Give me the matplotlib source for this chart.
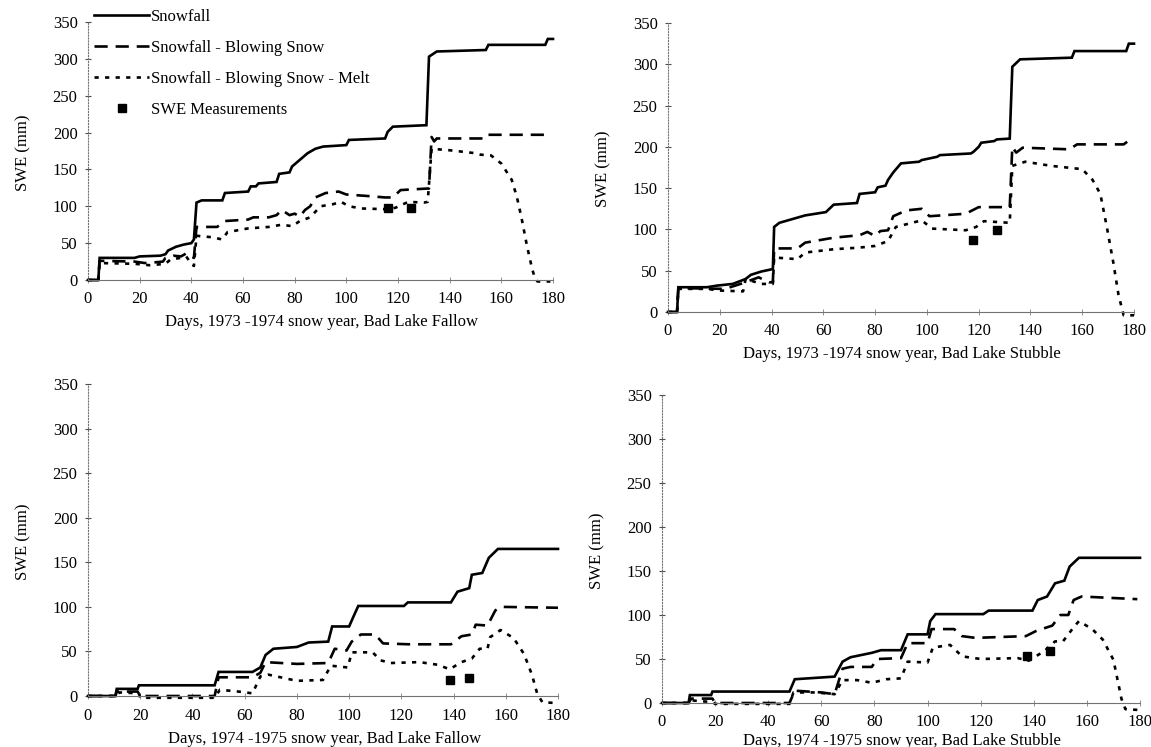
import matplotlib
matplotlib.use("Agg")
import matplotlib.pyplot as plt

plt.rcParams['font.family'] = ['Liberation Serif', 'DejaVu Serif']

# ---- data (day, SWE mm) ----
# 1973-1974, Bad Lake Fallow
a_snow_d = [0, 4, 4.5, 18, 20, 28, 30, 31, 34, 37, 40, 41, 42, 44, 52, 53, 62, 63, 65, 66, 73, 74, 78, 79, 81, 85, 88, 91, 100, 101, 115, 116, 118, 131, 132, 135, 154, 155, 177, 178, 180]
a_snow_v = [0, 0, 30, 30, 32, 33, 35, 40, 45, 48, 50, 55, 105, 108, 108, 118, 120, 127, 127, 131, 133, 144, 146, 154, 160, 172, 178, 181, 183, 190, 192, 201, 208, 210, 303, 310, 312, 319, 319, 327, 327]
a_blow_d = [0, 4, 4.5, 18, 22, 26, 29, 30, 33, 36, 38, 41, 42, 50, 53, 62, 64, 70, 73, 75, 78, 80, 82, 84, 86, 88, 92, 97, 100, 108, 115, 118, 121, 131, 132, 133, 134, 135, 154, 155, 177, 178]
a_blow_v = [0, 0, 26, 25, 23, 24, 25, 30, 33, 32, 36, 30, 72, 72, 80, 82, 85, 85, 88, 95, 88, 90, 86, 95, 100, 112, 118, 120, 116, 114, 112, 112, 122, 124, 124, 194, 188, 192, 192, 197, 197, 203]
a_melt_d = [0, 4, 4.5, 18, 24, 30, 32, 36, 38, 40, 41, 42, 48, 52, 54, 62, 70, 75, 79, 82, 86, 90, 95, 98, 101, 106, 116, 119, 124, 130, 131.5, 133, 140, 150, 152, 156, 160, 164, 166, 168, 170, 172, 173, 174, 179]
a_melt_v = [0, 0, 23, 22, 20, 22, 28, 30, 32, 22, 19, 60, 58, 55, 65, 70, 72, 75, 73, 80, 85, 100, 103, 106, 100, 97, 96, 98, 106, 105, 106, 178, 176, 172, 170, 169, 158, 136, 113, 81, 45, 14, 3, -2, -2]
a_meas_d = [116, 125]
a_meas_v = [97, 98]

# 1973-1974, Bad Lake Stubble
b_snow_d = [0, 3.5, 4, 15, 19, 25, 30, 32, 36, 40.5, 41, 43, 53, 61, 64, 73, 74, 80, 81, 84, 85, 87, 90, 97, 98, 104, 105, 117, 118, 120, 121, 126, 127, 132, 133, 136, 156, 157, 177, 178, 180]
b_snow_v = [0, 0, 30, 30, 32, 34, 40, 45, 49, 52, 103, 108, 117, 121, 130, 132, 143, 145, 151, 153, 160, 169, 180, 182, 184, 188, 190, 192, 194, 200, 205, 207, 209, 210, 297, 306, 308, 316, 316, 325, 325]
b_blow_d = [0, 3.5, 4, 22, 29, 35, 39, 40.5, 41, 50, 53, 64, 74, 77, 80, 82, 85, 87, 92, 98, 101, 115, 120, 132, 133, 134.5, 137, 155, 158, 176, 179]
b_blow_v = [0, 0, 29, 28, 35, 42, 36, 36, 77, 77, 84, 90, 93, 97, 92, 98, 99, 116, 123, 125, 116, 119, 127, 127, 200, 193, 199, 197, 203, 203, 210]
b_melt_d = [0, 3.5, 4, 15, 20, 29, 30, 36, 40.5, 41, 50, 53, 64, 74, 80, 85, 88, 98, 102, 115, 119, 122, 132, 133, 138, 148, 160, 164, 167, 169.5, 172, 174, 176, 180]
b_melt_v = [0, 0, 28, 28, 26, 25, 40, 34, 34, 66, 64, 72, 76, 78, 80, 86, 103, 111, 101, 99, 103, 110, 108, 177, 182, 177, 173, 160, 143, 103, 60, 21, -4, -4]
b_meas_d = [118, 127]
b_meas_v = [87, 99]

# 1974-1975, Bad Lake Fallow
c_snow_d = [0, 10.5, 11, 19, 19.5, 48.5, 50, 63, 66, 68, 71, 80, 84.5, 92, 93.5, 100, 101.5, 103.5, 121, 122.5, 139, 141.5, 146, 147, 151, 153.5, 157, 180]
c_snow_v = [0, 0, 8, 8, 12, 12, 27, 27, 32, 46, 53, 55, 60, 61, 78, 78, 88, 101, 101, 105, 105, 117, 121, 136, 138, 155, 165, 165]
c_blow_d = [0, 10.5, 11, 19, 20, 48.5, 50, 63, 66, 68, 80, 92, 94.5, 99, 101, 104.5, 110, 113, 123, 139, 143, 147, 148.5, 153, 156, 158, 180]
c_blow_v = [0, 0, 5, 5, 0, 0, 21, 21, 26, 38, 36, 37, 53, 51, 61, 69, 69, 59, 58, 58, 67, 69, 80, 79, 96, 100, 99]
c_melt_d = [0, 11, 12, 19.5, 20, 48.5, 50.5, 57.5, 63, 66, 69, 80, 90, 93, 99.5, 101, 109, 112, 116, 127, 134, 138.5, 143, 147, 150, 153, 154, 158, 163, 167, 170, 172, 174, 180]
c_melt_v = [0, 0, 4, 3, -2, -2, 7, 5, 3, 22, 24, 17, 18, 34, 32, 49, 49, 40, 37, 38, 35, 30, 38, 42, 53, 53, 66, 74, 65, 47, 24, 3, -7, -8]
c_meas_d = [138.5, 146]
c_meas_v = [18, 20]

# 1974-1975, Bad Lake Stubble
d_snow_d = [0, 10, 10.5, 18.5, 19, 48, 50, 65, 68, 71, 79, 82.5, 90, 92.5, 100, 101, 103, 121, 123, 139.5, 141.5, 145, 148, 151.5, 153.5, 157, 180]
d_snow_v = [0, 0, 9, 9, 13, 13, 27, 30, 47, 52, 57, 60, 60, 78, 78, 93, 101, 101, 105, 105, 117, 121, 136, 139, 155, 165, 165]
d_blow_d = [0, 10, 11, 19, 20, 48, 50, 60, 65, 68, 71, 79, 81, 90, 92.5, 100, 101.5, 110, 113, 118, 137, 141, 147, 150, 153, 155, 158, 179]
d_blow_v = [0, 0, 5, 5, 0, 0, 14, 12, 10, 39, 41, 41, 50, 51, 68, 68, 84, 84, 76, 74, 76, 82, 88, 100, 100, 117, 121, 118]
d_melt_d = [0, 10, 11, 19, 20, 48, 49.5, 58, 65, 68, 73.5, 79, 84.5, 90, 92.5, 100, 102, 108.5, 113, 120, 134, 138, 144, 148, 151, 155, 157, 162, 166, 170, 173, 174.5, 180]
d_melt_v = [0, 0, 3, 1, -1, -1, 12, 12, 10, 26, 26, 23, 27, 28, 47, 46, 63, 66, 53, 50, 51, 48, 59, 70, 70, 86, 93, 84, 72, 49, 5, -7, -8]
d_meas_d = [137.5, 146]
d_meas_v = [53, 59]

titles = ["Days, 1973 -1974 snow year, Bad Lake Fallow",
          "Days, 1973 -1974 snow year, Bad Lake Stubble",
          "Days, 1974 -1975 snow year, Bad Lake Fallow",
          "Days, 1974 -1975 snow year, Bad Lake Stubble"]
labels = ["Snowfall", "Snowfall - Blowing Snow", "Snowfall - Blowing Snow - Melt", "SWE Measurements"]
x_ticks = [0, 20, 40, 60, 80, 100, 120, 140, 160, 180]
y_ticks = [0, 50, 100, 150, 200, 250, 300, 350]

panels = [
    (a_snow_d, a_snow_v, a_blow_d, a_blow_v, a_melt_d, a_melt_v, a_meas_d, a_meas_v),
    (b_snow_d, b_snow_v, b_blow_d, b_blow_v, b_melt_d, b_melt_v, b_meas_d, b_meas_v),
    (c_snow_d, c_snow_v, c_blow_d, c_blow_v, c_melt_d, c_melt_v, c_meas_d, c_meas_v),
    (d_snow_d, d_snow_v, d_blow_d, d_blow_v, d_melt_d, d_melt_v, d_meas_d, d_meas_v),
]

W, H = 1151, 747
# pixel landmarks: x of day 0, x of day 180, y of 0 mm, y of 350 mm
marks = [(88, 553, 280, 22), (668, 1134, 312, 23), (88, 558, 696, 384), (662, 1140, 703, 395)]
tick_pad = [6, 6, 7, 6]
xlab_pad = [5, 5, 5, 2]
XLIM = (-2, 183)
YLIM = (-10, 356)


def rect(m):
    x0, x1, y0, y1 = m
    sx = (x1 - x0) / 180.0
    sy = (y0 - y1) / 350.0
    left = x0 + XLIM[0] * sx
    right = x0 + XLIM[1] * sx
    bottom = y0 - YLIM[0] * sy
    top = y0 - YLIM[1] * sy
    return [left / W, 1 - bottom / H, (right - left) / W, (bottom - top) / H]


fig = plt.figure(figsize=(W / 100, H / 100), dpi=100)

for i, p in enumerate(panels):
    ax = fig.add_axes(rect(marks[i]))
    sd, sv, bd, bv, md, mv, qd, qv = p
    ax.plot(sd, sv, color='black', lw=1.9, label=labels[0], solid_joinstyle='miter')
    ax.plot(bd, bv, color='black', lw=1.9, dashes=(5, 3), label=labels[1])
    ax.plot(md, mv, color='black', lw=1.9, dashes=(1.6, 2.4), label=labels[2])
    ax.plot(qd, qv, 's', color='black', ms=6, ls='none', label=labels[3])

    ax.set_xlim(*XLIM)
    ax.set_ylim(*YLIM)
    ax.set_xticks(x_ticks)
    ax.set_yticks(y_ticks)
    for s in ['top', 'right']:
        ax.spines[s].set_visible(False)
    ax.spines['bottom'].set_position(('data', 0))
    ax.spines['bottom'].set_bounds(0, 180)
    ax.spines['bottom'].set_color('0.45')
    ax.spines['bottom'].set_linewidth(0.8)
    ax.spines['left'].set_position(('data', 0))
    ax.spines['left'].set_bounds(0, 350)
    ax.spines['left'].set_color('0.45')
    ax.spines['left'].set_linewidth(0.8)
    ax.spines['left'].set_linestyle(':')
    ax.tick_params(axis='y', direction='inout', length=5, width=0.8, color='0.3',
                   labelsize=12, pad=5)
    ax.tick_params(axis='x', direction='inout', length=4, width=0.6, color='0.5',
                   labelsize=12, pad=tick_pad[i])
    ax.set_xlabel(titles[i], fontsize=12, labelpad=xlab_pad[i])
    ax.set_ylabel("SWE (mm)", fontsize=12, labelpad=15)
    ax.patch.set_alpha(0)

    if i == 0:
        ax.legend(loc='upper left', bbox_to_anchor=(0.01, 1.057), frameon=False,
                  fontsize=12, handlelength=3.3, handletextpad=0.1,
                  labelspacing=0.9, borderaxespad=0)

fig.savefig("out.png", dpi=100)
